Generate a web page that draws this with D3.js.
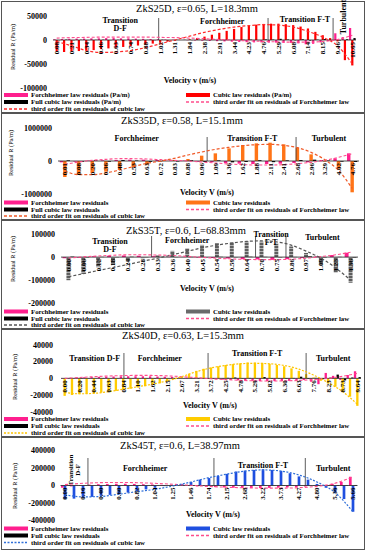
<!DOCTYPE html>
<html>
<head>
<meta charset="utf-8">
<script src="https://cdn.jsdelivr.net/npm/d3@7"></script>
<style>
  body { margin: 0; background: #fff; }
  svg { display: block; font-family: "Liberation Serif", "Times New Roman", serif; }
</style>
</head>
<body>
<svg id="chart" width="366" height="550"></svg>
<script>
// ---- data: ZkS25D (tick labels on every 2nd bar)
var ticks25 = ["0.08","0.21","0.34","0.46","0.63","0.74","0.88","1.02","1.31","1.84","2.38","2.91","3.44","4.23","4.76","5.29","6.08","7.14","8.15","9.46","10.65"];
var forch25 = [1500,2000,2500,3000,3000,3500,3500,4000,4000,3500,3500,3000,2500,2000,1500,1000,500,0,-500,-1000,-1500,-2000,-2500,-3000,-3500,-4000,-4500,-5000,-5000,-5500,-5500,-6000,-6000,-7000,-9000,-8000,-5000,-2000,14000,6000,25000];
var cubic25 = [-24000,-25000,-24000,-23000,-22000,-21000,-19000,-17500,-16000,-14500,-13000,-11500,-9500,-7500,-5500,-3500,-1500,0,1500,4000,7000,11000,15000,19000,23000,27000,30000,32000,33500,34000,34000,33000,31000,28000,24000,17000,10000,4000,-3000,-42000,-53000];
var full25 = [-500,800,-600,500,-400,300,600,-500,400,-300,500,-600,300,-400,600,-500,300,400,-300,500,-400,600,-500,300,-600,500,800,-400,1200,900,2500,1000,-800,1500,-1200,800,2000,-1500,-1000,1500,4000];
var fitF25 = [4000,5000,5500,6000,6000,6000,6000,5500,5000,4000,2500,1000,-500,-2000,-3000,-4000,-4500,-4500,-3000,1000,10000];
var fitC25 = [-3000,-12000,-22000,-26000,-25000,-22000,-16000,-8000,0,8000,16000,22000,27000,30000,32000,31000,27000,18000,6000,-12000,-50000];
var yTicks25 = [50000, 0, -50000, -100000];
var regions25 = ["Transition|D-F", "Forchheimer", "Transition F-T", "Turbulent"];
var bounds25 = [13.8, 28.6, 37.4];

// ---- data: ZkS35D
var ticks35D = ["0.01","0.08","0.20","0.36","0.48","0.53","0.63","0.72","0.83","0.88","0.96","1.09","1.36","1.62","1.88","2.11","2.41","2.68","2.96","3.29","4.02","4.76"];
var forch35D = [-40000,-20000,10000,20000,30000,40000,40000,30000,20000,10000,-20000,-40000,-60000,-80000,-90000,-90000,-80000,-60000,-40000,30000,80000,230000];
var cubic35D = [-480000,-400000,-360000,-320000,-270000,-190000,-110000,-20000,30000,60000,160000,230000,380000,480000,530000,550000,500000,400000,200000,-20000,-230000,-940000];
var full35D = [20000,-30000,25000,-20000,30000,15000,-25000,20000,-15000,25000,-30000,20000,-40000,-30000,25000,-35000,20000,30000,40000,15000,-20000,-30000];
var fitF35D = [-100000,-30000,20000,50000,70000,70000,60000,40000,20000,0,-30000,-60000,-90000,-110000,-120000,-120000,-110000,-80000,-40000,20000,110000,220000];
var fitC35D = [-300000,-410000,-410000,-360000,-270000,-170000,-70000,0,80000,180000,270000,350000,410000,460000,490000,500000,470000,400000,260000,40000,-280000,-820000];
var yTicks35D = [1000000, 0, -1000000];
var regions35D = ["Forchheimer", "Transition F-T", "Turbulent"];
var bounds35D = [10.4, 16.9];

// ---- data: ZkS35T
var ticks35T = ["0.00","0.06","0.12","0.18","0.24","0.28","0.33","0.36","0.40","0.45","0.54","0.59","0.64","0.70","0.75","0.86","0.97","1.09","1.23","1.36"];
var forch35T = [-5000,-3000,4000,6000,7000,6000,4000,2000,1000,-2000,-4000,-6000,-9000,-10000,-12000,-9000,-4000,3000,9000,19000];
var cubic35T = [-100000,-73000,-44000,-33000,-19000,-5000,7000,27000,38000,53000,60000,65000,68000,67000,58000,46000,18000,-33000,-67000,-111000];
var full35T = [2000,-1500,1000,-1000,1500,-1000,800,-600,1000,-800,1200,-900,1500,1000,-1200,800,3000,-1500,1000,-2000];
var fitF35T = [-4000,1000,5000,8000,10000,10000,9000,7000,3000,-1000,-5000,-8000,-10000,-11000,-11000,-9000,-5000,2000,10000,21000];
var fitC35T = [-85000,-72000,-58000,-45000,-32000,-18000,-5000,10000,25000,40000,52000,61000,68000,70000,66000,52000,26000,-4000,-47000,-100000];
var yTicks35T = [100000, 0, -100000, -200000];
var regions35T = ["Transition|D-F", "Forchheimer", "Transition|F-T", "Turbulent"];
var bounds35T = [5.6, 12.6, 14.65];

// ---- data: ZkS40D (tick labels on every 2nd bar)
var ticks40D = ["0.00","0.20","0.44","0.63","0.84","1.10","1.62","2.15","2.67","3.21","3.72","4.25","4.78","5.29","5.82","6.30","6.63","7.76","8.23","8.73","9.64"];
var forch40D = [300,600,900,1200,1500,1800,2000,2200,2400,2500,2500,2500,2400,2200,2000,1700,1300,900,500,0,-500,-1000,-1500,-2000,-2400,-2700,-3000,-3200,-3300,-3300,-3200,-3000,-2600,-2000,-4000,-7000,6500,3000,-2000,4000,8500];
var cubic40D = [-21000,-20000,-19000,-18500,-18000,-17000,-16000,-15000,-13500,-12500,-11000,-9500,-8000,-6000,-3500,-1000,2000,5500,9000,11500,13000,14500,16000,17000,18000,19000,19000,18500,17500,16000,14500,12000,9000,5000,1000,-3000,-6000,-10000,-16000,-22000,-33000];
var full40D = [300,-200,400,-300,200,-400,300,-200,400,-300,200,-300,400,-200,300,-400,200,-300,500,-200,400,-300,600,1000,-400,500,-300,1500,-500,400,-600,500,2000,-800,600,-1000,800,4500,-2500,1000,1500];
var fitF40D = [0,1000,2000,2800,3300,3600,3500,3000,2000,800,-500,-1500,-2400,-3000,-3200,-3000,-2500,-1500,0,2500,6000];
var fitC40D = [-17000,-18500,-18000,-16000,-13000,-10000,-7000,-3000,2000,8000,12500,15500,17500,18000,17500,15500,11000,4000,-5000,-16000,-31000];
var yTicks40D = [40000, 20000, 0, -20000, -40000];
var regions40D = ["Transition D-F", "Forchheimer", "Transition F-T", "Turbulent"];
var bounds40D = [8.1, 19.6, 33.0];

// ---- data: ZkS45T (tick labels on every 2nd bar)
var ticks45T = ["0.00","0.16","0.40","0.60","0.82","1.04","1.25","1.46","1.74","2.15","2.68","3.22","3.73","4.27","4.80","5.36","5.66"];
var forch45T = [-25000,-10000,5000,10000,15000,18000,20000,20000,18000,15000,12000,8000,4000,0,-5000,-10000,-15000,-18000,-22000,-25000,-27000,-28000,-28000,-27000,-25000,-22000,-18000,-12000,-5000,5000,20000,40000,100000];
var cubic45T = [-155000,-150000,-140000,-130000,-118000,-107000,-100000,-81000,-63000,-44000,-26000,-7000,3000,18000,40000,67000,85000,110000,133000,160000,170000,178000,185000,178000,167000,140000,104000,67000,18000,-26000,-80000,-155000,-300000];
var full45T = [3000,-2000,2500,-1500,2000,-2500,1500,-2000,3000,-1500,2000,-1000,1500,-2000,2500,-1500,2000,-2500,3000,-2000,1500,-3000,2500,-2000,3000,-2500,2000,-1500,4000,-3000,5000,-4000,6000];
var fitF45T = [10000,25000,33000,35000,32000,25000,14000,2000,-10000,-20000,-27000,-30000,-30000,-25000,-10000,25000,100000];
var fitC45T = [-107000,-130000,-125000,-100000,-70000,-44000,-5000,40000,90000,130000,165000,178000,165000,120000,40000,-80000,-300000];
var yTicks45T = [400000, 200000, 0, -200000, -400000];
var regions45T = ["Transition|D-F", "Forchheimer", "Transition F-T", "Turbulent"];
var bounds45T = [2.55, 16.55, 26.7];

var legendNames = ["Forchheimer law residuals", "Cubic law residuals", "Full cubic law residuals",
                   "third order fit on residuals of Forchheimer law", "third order fit on residuals of cubic law"];

var MAG = "#ff1f8e", PINKFIT = "#ff4d8c";

var svg = d3.select("#chart");

// striped fill for the grey bars of ZkS35T
var defs = svg.append("defs");
var pat = defs.append("pattern").attr("id","greyStripe").attr("patternUnits","userSpaceOnUse")
   .attr("width",4).attr("height",3);
pat.append("rect").attr("width",4).attr("height",3).attr("fill","#5e5e5e");
pat.append("rect").attr("y",2).attr("width",4).attr("height",1).attr("fill","#b0b0b0");

var panels = [
  { title: "ZkS25D, \u03b5=0.65, L=18.3mm", titleX: 197, titleY: 11.5, frame: [1, 112],
    ticks: ticks25, forch: forch25, cubic: cubic25, full: full25, fitF: fitF25, fitC: fitC25, fitStep: 2,
    yTicks: yTicks25, yDomain: [-100000, 50000], yRange: [88, 16], xRange: [53, 356], barFrac: 0.9,
    yLabelX: 47, yTitle: [13, 47], xTitle: "Velocity v (m/s)", xTitlePos: [190, 83], unit: " (Pa/m)",
    color: "#ff0000", fitColor: "#ff2a2a", fitDash: "3,2",
    regions: regions25, bounds: bounds25, lineTop: 18,
    regionPos: [{at: 8.6, y: 23}, {at: 22.4, y: 23.5}, {at: 33.6, y: 21.5}, {at: 38.8, y: 17, rot: true}],
    legendY: [95, 102, 109] },
  { title: "ZkS35D, \u03b5=0.58, L=15.1mm", titleX: 182, titleY: 123.5, frame: [113, 219],
    ticks: ticks35D, forch: forch35D, cubic: cubic35D, full: full35D, fitF: fitF35D, fitC: fitC35D, fitStep: 1,
    yTicks: yTicks35D, yDomain: [-1000000, 1000000], yRange: [194.3, 127.7], xRange: [58, 359], barFrac: 0.75,
    yLabelX: 52, yTitle: [11, 153], xTitle: "Velocity V (m/s)", xTitlePos: [207, 195], unit: "",
    color: "#ff7417", fitColor: "#f05a28", fitDash: "3,2",
    regions: regions35D, bounds: bounds35D, lineTop: 137,
    regionPos: [{at: 5.25, y: 141}, {at: 13.7, y: 141}, {at: 19.3, y: 141}],
    legendY: [202.5, 209.5, 216] },
  { title: "ZkS35T, \u03b5=0.6, L=68.83mm", titleX: 186, titleY: 233.5, frame: [220, 328],
    ticks: ticks35T, forch: forch35T, cubic: cubic35T, full: full35T, fitF: fitF35T, fitC: fitC35T, fitStep: 1,
    yTicks: yTicks35T, yDomain: [-200000, 100000], yRange: [303.3, 234], xRange: [61, 358], barFrac: 0.8,
    yLabelX: 55, yTitle: [13, 259], xTitle: "Velocity V (m/s)", xTitlePos: [207, 291], unit: "",
    color: "url(#greyStripe)", swatch: "#6a6a6a", fitColor: "#555555", fitDash: "3,2",
    regions: regions35T, bounds: bounds35T, lineTop: 236,
    regionPos: [{at: 2.8, y: 244}, {at: 8.0, y: 243}, {at: 13.65, y: 237}, {at: 17.1, y: 240}],
    legendY: [311.5, 318.5, 325] },
  { title: "ZkS40D, \u03b5=0.63, L=15.3mm", titleX: 183, titleY: 338.5, frame: [329, 436],
    ticks: ticks40D, forch: forch40D, cubic: cubic40D, full: full40D, fitF: fitF40D, fitC: fitC40D, fitStep: 2,
    yTicks: yTicks40D, yDomain: [-40000, 40000], yRange: [411.7, 345], xRange: [61, 361], barFrac: 0.95,
    yLabelX: 53, yTitle: [15, 377], xTitle: "Velocity V (m/s)", xTitlePos: [210, 408], unit: "",
    color: "#ffcc00", fitColor: "#ffc400", fitDash: "2,1.5",
    regions: regions40D, bounds: bounds40D, lineTop: 353,
    regionPos: [{at: 4.1, y: 361}, {at: 13.0, y: 361}, {at: 26.3, y: 356}, {at: 36.7, y: 361}],
    legendY: [419, 426, 433] },
  { title: "ZkS45T, \u03b5=0.6, L=38.97mm", titleX: 180, titleY: 448.5, frame: [437, 549],
    ticks: ticks45T, forch: forch45T, cubic: cubic45T, full: full45T, fitF: fitF45T, fitC: fitC45T, fitStep: 2,
    yTicks: yTicks45T, yDomain: [-400000, 400000], yRange: [520.5, 450.5], xRange: [60.5, 357.5], barFrac: 0.9,
    yLabelX: 55, yTitle: [15, 486], xTitle: "Velocity V (m/s)", xTitlePos: [213, 517], unit: "",
    color: "#1f4fe0", fitColor: "#2f6fd8", fitDash: "2,1.5",
    regions: regions45T, bounds: bounds45T, lineTop: 458,
    regionPos: [{at: 0.6, y: 470, rot: true, size: 7}, {at: 8.9, y: 471}, {at: 22, y: 468}, {at: 29.8, y: 471}],
    legendY: [528.5, 535.5, 542.5] }
];

function drawPanel(p) {
   var g = svg.append("g");

   // frame
   g.append("rect").attr("x",1.5).attr("y",p.frame[0]+0.5)
      .attr("width",363).attr("height",p.frame[1]-p.frame[0])
      .attr("fill","none").attr("stroke","#555").attr("stroke-width",1);

   // title
   g.append("text").attr("x",p.titleX).attr("y",p.titleY).attr("text-anchor","middle")
      .attr("font-size",10.5).text(p.title);

   var x = d3.scaleBand().domain(d3.range(p.cubic.length)).range(p.xRange);
   var y = d3.scaleLinear().domain(p.yDomain).range(p.yRange);
   var step = x.step();
   var cx = function(i) { return x(0) + step/2 + i*step; };
   var y0 = y(0);
   var bw = step*p.barFrac/3;

   // y tick labels
   g.selectAll(null).data(p.yTicks).enter().append("text")
      .attr("x",p.yLabelX).attr("y",function(d){return y(d);}).attr("dy","0.35em")
      .attr("text-anchor","end").attr("font-size",8).attr("font-weight","bold")
      .text(function(d){return d;});

   // y title
   g.append("text").attr("transform","translate("+p.yTitle[0]+","+p.yTitle[1]+") rotate(-90)")
      .attr("text-anchor","middle").attr("dy","0.35em").attr("font-size",7)
      .attr("textLength",46).attr("lengthAdjust","spacingAndGlyphs")
      .text("Residual R (Pa/m)");

   // bars: Forchheimer, cubic, full cubic
   var series = [{v: p.forch, c: MAG}, {v: p.cubic, c: p.color}, {v: p.full, c: "#000"}];
   series.forEach(function(s, k) {
      g.selectAll(null).data(s.v).enter().append("rect")
         .attr("x",function(d,i){return cx(i) - 1.5*bw + k*bw;})
         .attr("y",function(d){return Math.min(y(d), y0);})
         .attr("width",bw)
         .attr("height",function(d){return Math.abs(y(d)-y0);})
         .attr("fill",s.c);
   });

   // zero axis
   g.append("line").attr("x1",p.xRange[0]).attr("x2",p.xRange[1])
      .attr("y1",y0).attr("y2",y0).attr("stroke","#222").attr("stroke-width",0.8);

   // regime boundaries
   g.selectAll(null).data(p.bounds).enter().append("line")
      .attr("x1",function(d){return cx(d);}).attr("x2",function(d){return cx(d);})
      .attr("y1",p.lineTop).attr("y2",y0).attr("stroke","#333").attr("stroke-width",0.8);

   // regime labels
   p.regions.forEach(function(name, k) {
      var pos = p.regionPos[k];
      var lines = name.split("|");
      lines.forEach(function(t, j) {
         var t0 = g.append("text").attr("font-size",pos.size || 8).attr("font-weight","bold")
            .attr("text-anchor","middle").text(t);
         if (pos.rot) {
            t0.attr("transform","translate("+(cx(pos.at)+j*7.5)+","+pos.y+") rotate(-90)")
               .attr("dy","0.35em");
         } else {
            t0.attr("x",cx(pos.at)).attr("y",pos.y + j*7.5);
         }
      });
   });

   // third order fits
   var line = d3.line()
      .x(function(d,i){return cx(i*p.fitStep);})
      .y(function(d){return y(d);})
      .curve(d3.curveMonotoneX);
   g.append("path").datum(p.fitF).attr("d",line).attr("fill","none")
      .attr("stroke",PINKFIT).attr("stroke-width",1.1).attr("stroke-dasharray","3,2");
   g.append("path").datum(p.fitC).attr("d",line).attr("fill","none")
      .attr("stroke",p.fitColor).attr("stroke-width",1.2).attr("stroke-dasharray",p.fitDash);

   // category labels, every fitStep-th bar
   g.selectAll(null).data(p.ticks).enter().append("text")
      .attr("transform",function(d,i){return "translate("+cx(i*p.fitStep)+","+(y0+2)+") rotate(-90)";})
      .attr("text-anchor","end").attr("dy","0.35em")
      .attr("font-size",7).attr("font-weight","bold")
      .text(function(d){return d;});

   // x title
   g.append("text").attr("x",p.xTitlePos[0]).attr("y",p.xTitlePos[1]).attr("text-anchor","middle")
      .attr("font-size",8).attr("font-weight","bold").text(p.xTitle);

   // legend (tight rows, text widened a little instead of a bigger font)
   var items = [
      {t: legendNames[0]+p.unit, kind: "bar", c: MAG, col: 0, row: 0},
      {t: legendNames[1]+p.unit, kind: "bar", c: p.swatch || p.color, col: 1, row: 0},
      {t: legendNames[2]+p.unit, kind: "bar", c: "#000", col: 0, row: 1},
      {t: legendNames[3], kind: "line", c: PINKFIT, dash: "3,2", col: 1, row: 1},
      {t: legendNames[4], kind: "line", c: p.fitColor, dash: p.fitDash, col: 0, row: 2}
   ];
   var colX = [4, 186];
   items.forEach(function(it) {
      var lx = colX[it.col], ly = p.legendY[it.row];
      if (it.kind == "bar") {
         g.append("rect").attr("x",lx).attr("y",ly-2).attr("width",24).attr("height",4).attr("fill",it.c);
      } else {
         g.append("line").attr("x1",lx).attr("x2",lx+24).attr("y1",ly).attr("y2",ly)
            .attr("stroke",it.c).attr("stroke-width",1.3).attr("stroke-dasharray",it.dash);
      }
      g.append("text").attr("transform","translate("+(lx+27)+","+ly+") scale(1.12,1)")
         .attr("dy","0.35em").attr("font-size",6.1).attr("font-weight","bold").text(it.t);
   });
}

panels.forEach(drawPanel);
</script>
</body>
</html>
